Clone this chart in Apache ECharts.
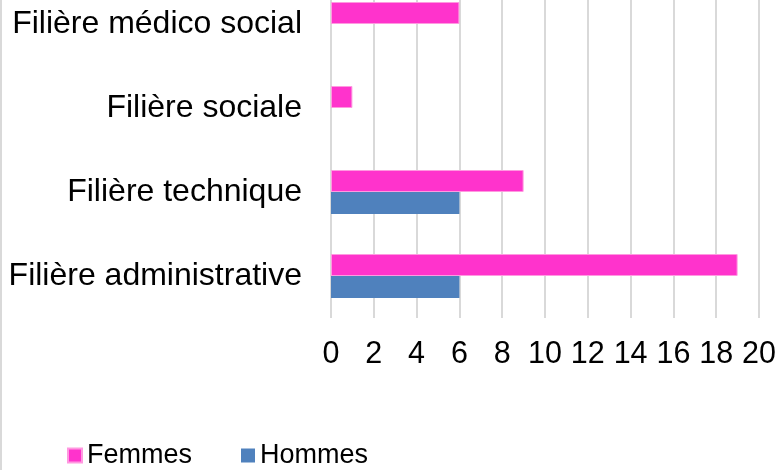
<!DOCTYPE html>
<html>
<head>
<meta charset="utf-8">
<script src="https://cdn.jsdelivr.net/npm/echarts@6/dist/echarts.min.js"></script>
<style>
  html, body { margin: 0; padding: 0; background: #fff; }
  #chart { width: 783px; height: 470px; }
</style>
</head>
<body>
<div id="chart"></div>
<script>
(function (echarts) {
    'use strict';

    // categories, bottom to top
    const categories = ['Filière administrative', 'Filière technique', 'Filière sociale', 'Filière médico social'];
    const femmes = [19, 9, 1, 6];
    const hommes = [6, 6, 0, 0];
    const xTicks = [0, 20, 2]; // min, max, interval

    const font = 'Liberation Sans, Arial, sans-serif';

    const chart = echarts.init(document.getElementById('chart'));
    chart.setOption({
        animation: false,
        backgroundColor: '#fff',
        textStyle: {fontFamily: font},
        // plot area starts above the top edge (picture is cropped there)
        grid: {left: 331, right: 24, top: -18, bottom: 152, outerBoundsMode: 'none'},
        legend: {
            data: ['Femmes', 'Hommes'],
            left: 62,
            top: 437,
            icon: 'rect',
            itemWidth: 14,
            itemHeight: 14,
            itemGap: 49,
            textStyle: {fontSize: 27, color: '#000', fontFamily: font}
        },
        xAxis: {
            type: 'value',
            min: xTicks[0],
            max: xTicks[1],
            interval: xTicks[2],
            axisLine: {show: false},
            axisTick: {show: false},
            splitLine: {lineStyle: {color: '#D9D9D9', width: 2}},
            axisLabel: {fontSize: 30.5, color: '#000', margin: 21, fontFamily: font}
        },
        yAxis: {
            type: 'category',
            data: categories,
            axisLine: {show: false},
            axisTick: {show: false},
            axisLabel: {fontSize: 32, color: '#000', margin: 29, padding: [4, 0, 0, 0], fontFamily: font}
        },
        series: [
            {
                name: 'Femmes',
                type: 'bar',
                data: femmes,
                barWidth: 22,
                barGap: '0%',
                itemStyle: {color: '#FF33CC', borderColor: '#FF99E0', borderWidth: 1}
            },
            {
                name: 'Hommes',
                type: 'bar',
                data: hommes,
                barWidth: 22,
                barGap: '0%',
                itemStyle: {color: '#4F81BD'}
            }
        ],
        graphic: [{
            type: 'line',
            shape: {x1: 1, y1: 0, x2: 1, y2: 470},
            style: {stroke: '#D9D9D9', lineWidth: 2}
        }]
    });
})(echarts);
</script>
</body>
</html>
